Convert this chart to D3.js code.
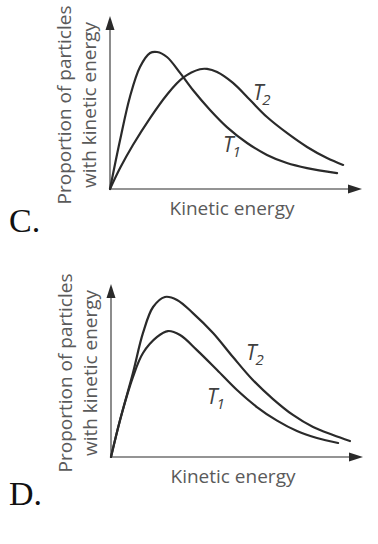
<!DOCTYPE html>
<html>
<head>
<meta charset="utf-8">
<script src="https://cdn.jsdelivr.net/npm/d3@7/dist/d3.min.js"></script>
<style>
  html, body { margin: 0; padding: 0; background: #fff; }
  svg { display: block; }
</style>
</head>
<body>
<svg id="chart" width="378" height="544"></svg>
<script>
// ---- Data (arbitrary units: energy 0-100, proportion 0-100) ----
const panels = ["C.", "D."];
const xLabel = "Kinetic energy";
const yLabelLines = ["Proportion of particles", "with kinetic energy"];
const seriesNames = ["T1", "T2"];

// Panel C
const cT1Energy = [0, 4.0, 7.9, 11.9, 15.9, 18.7, 22.6, 27.8, 32.9, 39.7, 46.4, 54.4, 62.3, 70.2, 78.2, 90.1];
const cT1Prop   = [0, 28.3, 53.2, 70.5, 78.6, 79.2, 76.3, 67.1, 57.2, 45.7, 35.8, 26.6, 19.7, 15.0, 12.1, 9.2];
const cT2Energy = [0, 4.0, 9.1, 15.9, 22.6, 28.9, 35.7, 38.5, 42.5, 48.8, 55.6, 62.3, 70.2, 78.2, 86.1, 92.5];
const cT2Prop   = [0, 12.1, 25.4, 41.0, 54.5, 64.2, 69.2, 69.4, 67.6, 61.3, 51.4, 41.6, 32.4, 24.3, 17.9, 13.9];

// Panel D
const dT1Energy = [0, 3.6, 8.7, 12.7, 18.3, 22.6, 27.4, 34.1, 42.1, 50.0, 57.9, 65.9, 73.8, 81.7, 90.1];
const dT1Prop   = [0, 21.4, 46.2, 60.1, 69.4, 72.8, 70.5, 61.8, 50.3, 38.7, 28.9, 21.0, 15.0, 11.0, 8.1];
const dT2Energy = [0, 3.6, 8.7, 12.7, 16.7, 21.4, 26.2, 32.5, 40.5, 48.4, 56.3, 64.3, 72.2, 80.2, 88.1, 94.8];
const dT2Prop   = [0, 21.4, 48.6, 71.7, 86.7, 92.5, 90.8, 83.2, 71.7, 57.8, 44.5, 33.5, 24.3, 17.3, 12.7, 9.2];

const xDomain = [0, 100];
const yDomain = [0, 100];

// ---- Layout ----
const svg = d3.select("#chart");
const plotW = 252, plotH = 173;
const origins = [{x: 110, y: 189}, {x: 111, y: 457}];
const labelPos = [
  {t1: [44.8, 21.4], t2: [56.7, 51.4]},
  {t1: [38.1, 30.6], t2: [53.6, 56.1]}
];
const seriesData = [
  [d3.zip(cT1Energy, cT1Prop), d3.zip(cT2Energy, cT2Prop)],
  [d3.zip(dT1Energy, dT1Prop), d3.zip(dT2Energy, dT2Prop)]
];

const x = d3.scaleLinear().domain(xDomain).range([0, plotW]);
const y = d3.scaleLinear().domain(yDomain).range([0, -plotH]);
const line = d3.line().x(d => x(d[0])).y(d => y(d[1])).curve(d3.curveCatmullRom.alpha(0.5));

panels.forEach((name, i) => {
  const o = origins[i];
  const g = svg.append("g").attr("transform", `translate(${o.x},${o.y})`);

  // axes
  g.append("line").attr("x1", 0).attr("y1", 0).attr("x2", 0).attr("y2", -plotH + 10)
    .attr("stroke", "#707070").attr("stroke-width", 1.6);
  g.append("line").attr("x1", 0).attr("y1", 0).attr("x2", plotW - 10).attr("y2", 0)
    .attr("stroke", "#707070").attr("stroke-width", 1.6);
  g.append("path").attr("d", `M0,${-plotH} L-4.5,${-plotH + 14} L4.5,${-plotH + 14} Z`).attr("fill", "#2a2a2a");
  g.append("path").attr("d", `M${plotW},0 L${plotW - 14},-4.5 L${plotW - 14},4.5 Z`).attr("fill", "#2a2a2a");

  // curves
  seriesData[i].forEach(s => {
    g.append("path").attr("d", line(s)).attr("fill", "none")
      .attr("stroke", "#2a2a2a").attr("stroke-width", 2.2).attr("stroke-linecap", "round");
  });

  // series labels
  [["t1", "1"], ["t2", "2"]].forEach(([k, sub]) => {
    const p = labelPos[i][k];
    const t = g.append("text").attr("x", x(p[0])).attr("y", y(p[1]))
      .attr("font-family", "'Open Sans', sans-serif").attr("font-size", 21)
      .attr("font-style", "italic").attr("fill", "#404040");
    t.append("tspan").text("T");
    t.append("tspan").attr("font-size", 15).attr("dy", 5).attr("dx", -1).text(sub);
  });

  // x label
  g.append("text").attr("x", 122).attr("y", 26).attr("text-anchor", "middle")
    .attr("font-family", "'Open Sans', sans-serif").attr("font-size", 19)
    .attr("fill", "#5a5a5a").text(xLabel);

  // y label
  yLabelLines.forEach((ln, j) => {
    g.append("text")
      .attr("transform", `translate(${-39 + j * 25},${-84}) rotate(-90)`)
      .attr("text-anchor", "middle")
      .attr("font-family", "'Open Sans', sans-serif").attr("font-size", 19)
      .attr("fill", "#5a5a5a").text(ln);
  });

  // panel letter
  svg.append("text").attr("x", 9).attr("y", o.y + 43 + (i === 1 ? 5 : 0))
    .attr("font-family", "'Liberation Serif', 'Times New Roman', serif").attr("font-size", 34)
    .attr("fill", "#111").text(name);
});
</script>
</body>
</html>
